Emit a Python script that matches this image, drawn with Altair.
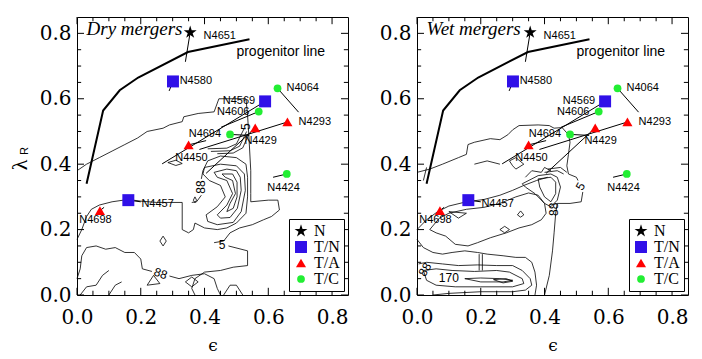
import altair as alt
import pandas as pd

# ---------------- data ----------------
names = ["N4651", "N4580", "N4064", "N4569", "N4606", "N4293", "N4429", "N4694",
         "N4450", "N4424", "N4457", "N4698"]
types = ["N", "T/N", "T/C", "T/N", "T/C", "T/A", "T/A", "T/C", "T/A", "T/C", "T/N", "T/A"]
eps = [0.355, 0.301, 0.629, 0.590, 0.570, 0.660, 0.559, 0.480, 0.350, 0.658, 0.161, 0.072]
lam = [0.803, 0.653, 0.632, 0.592, 0.561, 0.529, 0.511, 0.491, 0.459, 0.370, 0.290, 0.258]
# other end of each galaxy's line
seg_eps = [0.340, 0.289, 0.695, 0.267, 0.452, 0.384, 0.405, 0.540, 0.405, 0.615, 0.200, 0.085]
seg_lam = [0.713, 0.624, 0.559, 0.401, 0.513, 0.445, 0.372, 0.488, 0.472, 0.360, 0.285, 0.268]
# label anchors
lab_eps = [0.397, 0.322, 0.657, 0.559, 0.541, 0.695, 0.525, 0.452, 0.308, 0.597, 0.202, 0.007]
lab_lam = [0.792, 0.653, 0.632, 0.594, 0.561, 0.528, 0.472, 0.491, 0.420, 0.328, 0.278, 0.229]
lab_side = ["left", "left", "left", "right", "right", "left", "left", "right",
            "left", "left", "left", "left"]

prog_eps = [0.030, 0.082, 0.134, 0.192, 0.348, 0.541]
prog_lam = [0.340, 0.564, 0.626, 0.665, 0.743, 0.782]

major_ticks = [0.0, 0.2, 0.4, 0.6, 0.8]
minor_ticks = [0.05, 0.1, 0.15, 0.25, 0.3, 0.35, 0.45, 0.5, 0.55, 0.65, 0.7, 0.75]

TYPES = ["N", "T/N", "T/A", "T/C"]
COLORS = ["#000000", "#3010e8", "#ff0000", "#22ee33"]
STAR = ("M0,-1L0.2245,-0.309L0.951,-0.309L0.363,0.118L0.588,0.809L0,0.382"
        "L-0.588,0.809L-0.363,0.118L-0.951,-0.309L-0.2245,-0.309Z")
SHAPES = [STAR, "square", "triangle-up", "circle"]
SIZES = [185, 60, 75, 70]

dry_contours = [
    [(0.0, 0.38), (0.03, 0.40), (0.07, 0.42), (0.11, 0.44), (0.15, 0.46), (0.19, 0.48),
     (0.22, 0.50), (0.27, 0.51), (0.29, 0.52), (0.33, 0.53), (0.335, 0.545), (0.38, 0.555),
     (0.43, 0.56), (0.445, 0.60), (0.53, 0.60), (0.535, 0.55), (0.54, 0.47), (0.545, 0.38),
     (0.545, 0.31), (0.545, 0.285), (0.60, 0.29), (0.63, 0.29), (0.635, 0.26), (0.61, 0.24),
     (0.585, 0.23), (0.55, 0.215), (0.51, 0.205), (0.48, 0.19), (0.46, 0.165), (0.43, 0.16)],
    [(0.475, 0.15), (0.535, 0.135), (0.535, 0.09), (0.49, 0.085), (0.45, 0.075), (0.40, 0.07),
     (0.37, 0.05), (0.36, 0.02), (0.37, 0.0)],
    [(0.0, 0.17), (0.015, 0.20), (0.03, 0.24), (0.045, 0.262), (0.07, 0.275), (0.11, 0.285),
     (0.16, 0.292), (0.20, 0.287), (0.25, 0.283), (0.33, 0.283), (0.33, 0.20), (0.35, 0.19),
     (0.365, 0.20), (0.37, 0.22), (0.40, 0.205), (0.44, 0.20), (0.47, 0.205), (0.50, 0.22),
     (0.53, 0.25), (0.535, 0.30), (0.535, 0.36), (0.53, 0.40), (0.50, 0.42), (0.45, 0.425),
     (0.41, 0.41), (0.395, 0.38), (0.39, 0.355)],
    [(0.39, 0.305), (0.375, 0.285), (0.36, 0.283)],
    [(0.40, 0.39), (0.45, 0.40), (0.50, 0.395), (0.525, 0.37), (0.528, 0.32), (0.515, 0.255),
     (0.49, 0.222), (0.44, 0.215), (0.41, 0.225), (0.405, 0.245), (0.44, 0.27), (0.465, 0.30),
     (0.45, 0.335), (0.415, 0.35), (0.395, 0.37), (0.40, 0.39)],
    [(0.43, 0.375), (0.47, 0.385), (0.50, 0.38), (0.512, 0.36), (0.515, 0.32), (0.503, 0.265),
     (0.48, 0.237), (0.45, 0.235), (0.44, 0.245), (0.47, 0.275), (0.488, 0.31), (0.47, 0.35),
     (0.44, 0.36), (0.43, 0.375)],
    [(0.455, 0.37), (0.488, 0.37), (0.502, 0.345), (0.502, 0.30), (0.49, 0.265), (0.47, 0.255),
     (0.48, 0.28), (0.497, 0.31), (0.488, 0.35), (0.465, 0.36), (0.455, 0.37)],
    [(0.41, 0.447), (0.47, 0.449), (0.50, 0.462), (0.525, 0.51)],
    [(0.42, 0.439), (0.48, 0.441), (0.51, 0.455), (0.532, 0.50)],
    [(0.44, 0.432), (0.49, 0.434), (0.52, 0.45), (0.538, 0.49)],
    [(0.285, 0.405), (0.31, 0.412), (0.33, 0.402), (0.31, 0.396), (0.285, 0.405)],
    [(0.0, 0.05), (0.01, 0.08), (0.015, 0.12), (0.03, 0.145), (0.06, 0.15), (0.09, 0.14),
     (0.12, 0.145), (0.15, 0.13), (0.18, 0.13), (0.20, 0.11), (0.205, 0.08), (0.235, 0.072)],
    [(0.29, 0.058), (0.32, 0.05), (0.36, 0.06), (0.40, 0.065), (0.43, 0.05), (0.44, 0.02),
     (0.45, 0.0)],
    [(0.01, 0.0), (0.03, 0.025), (0.06, 0.03), (0.08, 0.06), (0.10, 0.075)],
    [(0.10, 0.0), (0.12, 0.03), (0.14, 0.04)],
    [(0.26, 0.165), (0.27, 0.18), (0.28, 0.165), (0.27, 0.15), (0.26, 0.165)],
    [(0.34, 0.04), (0.36, 0.055), (0.38, 0.04), (0.36, 0.025), (0.34, 0.04)],
    [(0.22, 0.03), (0.24, 0.06), (0.26, 0.035), (0.22, 0.03)],
    [(0.365, 0.29), (0.37, 0.30), (0.375, 0.29), (0.37, 0.282), (0.365, 0.29)],
    [(0.46, 0.0), (0.48, 0.03), (0.50, 0.03), (0.52, 0.0)],
]
dry_labels = [("88", 0.39, 0.33, 270), ("5", 0.455, 0.152, 0), ("88", 0.262, 0.066, 20),
              ("5", 0.53, 0.515, 270)]

wet_contours = [
    [(0.0, 0.375), (0.04, 0.385), (0.08, 0.40), (0.13, 0.42), (0.155, 0.43), (0.16, 0.46),
     (0.18, 0.467), (0.23, 0.478), (0.26, 0.475), (0.285, 0.49), (0.30, 0.505), (0.32, 0.518),
     (0.38, 0.52), (0.415, 0.518), (0.43, 0.51), (0.455, 0.512), (0.475, 0.49), (0.48, 0.467),
     (0.475, 0.43), (0.47, 0.395), (0.475, 0.37), (0.50, 0.36), (0.505, 0.35)],
    [(0.52, 0.315), (0.515, 0.285), (0.48, 0.28), (0.44, 0.28), (0.435, 0.25), (0.43, 0.19),
     (0.425, 0.135), (0.415, 0.06), (0.40, 0.0)],
    [(0.29, 0.41), (0.31, 0.42), (0.335, 0.40), (0.31, 0.385), (0.30, 0.395), (0.29, 0.41)],
    [(0.34, 0.36), (0.36, 0.38), (0.39, 0.375), (0.40, 0.39), (0.42, 0.38)],
    [(0.18, 0.40), (0.22, 0.41), (0.26, 0.40)],
    [(0.33, 0.34), (0.38, 0.365), (0.42, 0.37), (0.44, 0.36), (0.45, 0.33), (0.44, 0.29),
     (0.42, 0.27), (0.40, 0.28), (0.37, 0.31), (0.34, 0.33), (0.33, 0.34)],
    [(0.38, 0.355), (0.42, 0.36), (0.435, 0.345), (0.435, 0.31), (0.42, 0.285), (0.40, 0.30),
     (0.385, 0.33), (0.38, 0.355)],
    [(0.40, 0.375), (0.44, 0.38), (0.46, 0.37)],
    [(0.41, 0.385), (0.45, 0.39), (0.47, 0.375)],
    [(0.0, 0.20), (0.03, 0.23), (0.065, 0.255), (0.10, 0.272), (0.155, 0.285), (0.21, 0.292),
     (0.26, 0.305), (0.30, 0.32), (0.335, 0.335), (0.375, 0.35), (0.41, 0.36)],
    [(0.04, 0.20), (0.07, 0.235), (0.10, 0.25), (0.155, 0.262), (0.21, 0.268), (0.26, 0.28),
     (0.31, 0.30), (0.35, 0.312), (0.38, 0.305), (0.40, 0.28), (0.405, 0.25), (0.39, 0.23),
     (0.36, 0.215), (0.32, 0.205), (0.28, 0.19), (0.23, 0.175), (0.19, 0.16), (0.16, 0.15),
     (0.12, 0.155), (0.09, 0.18), (0.06, 0.19), (0.04, 0.20)],
    [(0.10, 0.255), (0.155, 0.25), (0.13, 0.235), (0.10, 0.255)],
    [(0.26, 0.20), (0.275, 0.21), (0.29, 0.20), (0.275, 0.19), (0.26, 0.20)],
    [(0.315, 0.245), (0.325, 0.257), (0.335, 0.245), (0.325, 0.238), (0.315, 0.245)],
    [(0.0, 0.17), (0.02, 0.145), (0.05, 0.13), (0.08, 0.125), (0.11, 0.13), (0.15, 0.135),
     (0.19, 0.13), (0.22, 0.125), (0.27, 0.12), (0.31, 0.115), (0.34, 0.115), (0.36, 0.10),
     (0.37, 0.07), (0.375, 0.03), (0.37, 0.0)],
    [(0.195, 0.125), (0.195, 0.075)],
    [(0.205, 0.125), (0.205, 0.075)],
    [(0.005, 0.095), (0.03, 0.10), (0.08, 0.095), (0.13, 0.09), (0.19, 0.092), (0.25, 0.09),
     (0.30, 0.09), (0.33, 0.075), (0.355, 0.05), (0.36, 0.03), (0.34, 0.015), (0.30, 0.01),
     (0.20, 0.01), (0.10, 0.005), (0.05, 0.0)],
    [(0.02, 0.075), (0.06, 0.08), (0.11, 0.075), (0.18, 0.072), (0.25, 0.075), (0.29, 0.07),
     (0.33, 0.05), (0.335, 0.035), (0.30, 0.025), (0.20, 0.025), (0.12, 0.025), (0.06, 0.03),
     (0.03, 0.045), (0.02, 0.075)],
    [(0.15, 0.05), (0.2, 0.052), (0.26, 0.05), (0.30, 0.045), (0.27, 0.04), (0.2, 0.04),
     (0.15, 0.05)],
    [(0.24, 0.047), (0.28, 0.05), (0.30, 0.042), (0.27, 0.037), (0.24, 0.047)],
    [(0.03, 0.39), (0.02, 0.35)],
]
wet_labels = [("5", 0.513, 0.332, 300), ("88", 0.43, 0.262, 270), ("170", 0.10, 0.053, 0),
              ("88", 0.025, 0.078, 300)]

# ---------------- layout constants ----------------
W, H = 271, 278
XMAX = 0.85
TICK_MAJOR = 0.022
TICK_MINOR = 0.013

xs = alt.Scale(domain=[0, XMAX], nice=False, zero=False)
ys = alt.Scale(domain=[0, XMAX], nice=False, zero=False)

gal = pd.DataFrame({"name": names, "type": types, "eps": eps, "lam": lam,
                    "eps2": seg_eps, "lam2": seg_lam,
                    "leps": lab_eps, "llam": lab_lam, "side": lab_side})
prog = pd.DataFrame({"eps": prog_eps, "lam": prog_lam, "k": list(range(len(prog_eps)))})

rows = []
for v in major_ticks:
    rows.append({"pos": v, "len": TICK_MAJOR})
for v in minor_ticks:
    rows.append({"pos": v, "len": TICK_MINOR})
ticks = pd.DataFrame(rows)
ticks["zero"] = 0.0
ticks["top"] = XMAX
ticks["top_in"] = XMAX - ticks["len"]


def contour_df(lines):
    r = []
    for i, line in enumerate(lines):
        for k, (e, l) in enumerate(line):
            r.append({"id": i, "k": k, "eps": e, "lam": l})
    return pd.DataFrame(r)


def label_df(labels):
    return pd.DataFrame([{"t": t, "eps": e, "lam": l, "ang": a} for t, e, l, a in labels])


xaxis = alt.Axis(values=major_ticks, format=".1f", labelPadding=12, titlePadding=10,
                 labelFlush=False)
yaxis = alt.Axis(values=major_ticks, format=".1f", labelPadding=6, labelFlush=False)


def X(f):
    return alt.X(f, scale=xs, axis=xaxis, title="ϵ")


def Y(f):
    return alt.Y(f, scale=ys, axis=yaxis, title=None)


def panel(title_text, contours, clabels, with_ytitle):
    cont = alt.Chart(contour_df(contours)).mark_line(color="black", strokeWidth=0.8).encode(
        x=X("eps:Q"), y=Y("lam:Q"), detail="id:N", order="k:Q")

    clab = alt.Chart(label_df(clabels)).mark_text(
        font="Liberation Sans", fontSize=12, color="black", baseline="middle",
        align="center").encode(x=X("eps:Q"), y=Y("lam:Q"), text="t:N",
                               angle=alt.Angle("ang:Q", scale=None))

    pl = alt.Chart(prog).mark_line(color="black", strokeWidth=2).encode(
        x=X("eps:Q"), y=Y("lam:Q"), order="k:Q")

    segs = alt.Chart(gal).mark_rule(color="black", strokeWidth=1).encode(
        x=X("eps:Q"), y=Y("lam:Q"), x2="eps2:Q", y2="lam2:Q")

    pts = alt.Chart(gal).mark_point(filled=True, opacity=1).encode(
        x=X("eps:Q"), y=Y("lam:Q"),
        color=alt.Color("type:N", scale=alt.Scale(domain=TYPES, range=COLORS),
                        legend=alt.Legend(title=None)),
        shape=alt.Shape("type:N", scale=alt.Scale(domain=TYPES, range=SHAPES),
                        legend=alt.Legend(title=None)),
        size=alt.Size("type:N", scale=alt.Scale(domain=TYPES, range=SIZES),
                      legend=alt.Legend(title=None)))

    lab_l = alt.Chart(gal).transform_filter("datum.side == 'left'").mark_text(
        align="left", baseline="middle", font="Liberation Sans", fontSize=11,
        color="black").encode(x=X("leps:Q"), y=Y("llam:Q"), text="name:N")
    lab_r = alt.Chart(gal).transform_filter("datum.side == 'right'").mark_text(
        align="right", baseline="middle", font="Liberation Sans", fontSize=11,
        color="black").encode(x=X("leps:Q"), y=Y("llam:Q"), text="name:N")

    notes = pd.DataFrame({"t": ["progenitor line"], "eps": [0.50], "lam": [0.742]})
    note = alt.Chart(notes).mark_text(align="left", baseline="middle", font="Liberation Sans",
                                      fontSize=14, color="black").encode(
        x=X("eps:Q"), y=Y("lam:Q"), text="t:N")

    ttl = alt.Chart(pd.DataFrame({"t": [title_text], "eps": [0.03], "lam": [0.813]})).mark_text(
        align="left", baseline="middle", font="Liberation Serif", fontStyle="italic",
        fontSize=19, color="black").encode(x=X("eps:Q"), y=Y("lam:Q"), text="t:N")

    tb = alt.Chart(ticks).mark_rule(color="black", strokeWidth=1).encode(
        x=X("pos:Q"), y=Y("zero:Q"), y2="len:Q")
    tt = alt.Chart(ticks).mark_rule(color="black", strokeWidth=1).encode(
        x=X("pos:Q"), y=Y("top:Q"), y2="top_in:Q")
    tl = alt.Chart(ticks).mark_rule(color="black", strokeWidth=1).encode(
        y=Y("pos:Q"), x=X("zero:Q"), x2="len:Q")
    tr = alt.Chart(ticks).mark_rule(color="black", strokeWidth=1).encode(
        y=Y("pos:Q"), x=X("top:Q"), x2="top_in:Q")

    layers = [cont, clab, pl, segs, tb, tt, tl, tr, note, ttl, lab_l, lab_r, pts]
    if with_ytitle:
        lamt = alt.Chart(pd.DataFrame({"t": ["λ"]})).mark_text(
            font="Liberation Serif", fontSize=22, angle=270, baseline="middle", align="center",
            color="black").encode(x=alt.value(-57), y=alt.value(148), text="t:N")
        rt = alt.Chart(pd.DataFrame({"t": ["R"]})).mark_text(
            font="Liberation Sans", fontSize=11, angle=270, baseline="middle", align="center",
            color="black").encode(x=alt.value(-52), y=alt.value(134), text="t:N")
        layers += [lamt, rt]
    return alt.layer(*layers).properties(width=W, height=H)


left = panel("Dry mergers", dry_contours, dry_labels, True)
right = panel("Wet mergers", wet_contours, wet_labels, False)

chart = alt.hconcat(left, right, spacing=69, bounds="flush").resolve_scale(
    color="independent", shape="independent", size="independent").resolve_legend(
    color="independent", shape="independent", size="independent").properties(
    padding={"left": 0, "top": 8, "right": 5, "bottom": 5}).configure_view(
    stroke="black", strokeWidth=1).configure_axis(
    ticks=False, domain=False, grid=False, labelFont="DejaVu Serif", labelFontSize=20,
    labelColor="black", titleFont="DejaVu Serif", titleFontSize=17,
    titleFontWeight="normal", titleColor="black").configure_legend(
    orient="bottom-right", offset=4, strokeColor="black", fillColor="white", padding=4,
    labelFont="Liberation Serif", labelFontSize=16, labelColor="black", labelOffset=5,
    rowPadding=0, symbolStrokeWidth=0, cornerRadius=0)

chart.save("out.html", embed_options={"renderer": "svg", "actions": False})
